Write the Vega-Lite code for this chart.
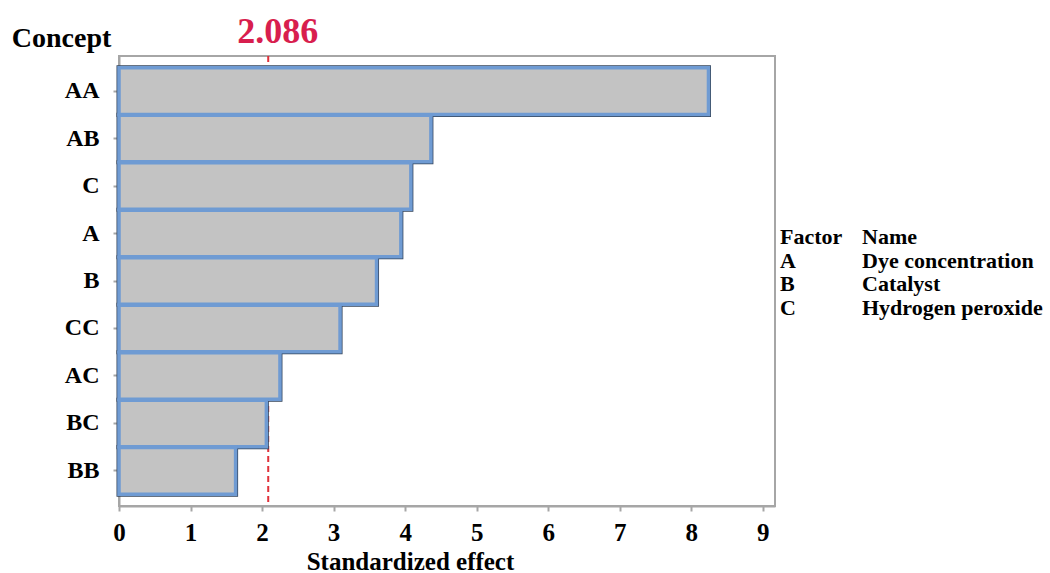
{
  "$schema": "https://vega.github.io/schema/vega-lite/v6.json",
  "background": "white",
  "padding": {"left": 10, "top": 12, "right": 0, "bottom": 0},
  "spacing": 4,
  "config": {
    "font": "Liberation Serif",
    "view": {"stroke": "#a6a6a6", "strokeWidth": 2},
    "axis": {
      "labelFont": "Liberation Serif",
      "titleFont": "Liberation Serif",
      "labelFontWeight": "bold",
      "titleFontWeight": "bold",
      "labelColor": "black",
      "titleColor": "black",
      "domainColor": "#a6a6a6",
      "domainWidth": 2,
      "tickColor": "#a6a6a6",
      "tickWidth": 2,
      "grid": false
    }
  },
  "hconcat": [
    {
      "width": 656,
      "height": 450,
      "resolve": {"axis": {"x": "independent"}},
      "layer": [
        {
          "data": {"values": [{"t": 2.086}]},
          "mark": {"type": "rule", "color": "#e0303a", "strokeWidth": 2, "strokeDash": [6, 4]},
          "encoding": {
            "x": {
              "field": "t",
              "type": "quantitative",
              "scale": {"domain": [0, 9.17], "nice": false},
              "axis": {
                "orient": "top",
                "title": null,
                "values": [2.086],
                "format": ".3f",
                "domain": false,
                "ticks": false,
                "labelFlush": false,
                "labelColor": "#d81e4e",
                "labelFontSize": 36,
                "labelOffset": 9,
                "labelPadding": 14,
                "labelBaseline": "alphabetic"
              }
            }
          }
        },
        {
          "data": {
            "values": [
              {"term": "AA", "effect": 8.24},
              {"term": "AB", "effect": 4.36},
              {"term": "C", "effect": 4.08},
              {"term": "A", "effect": 3.94},
              {"term": "B", "effect": 3.6},
              {"term": "CC", "effect": 3.09},
              {"term": "AC", "effect": 2.25},
              {"term": "BC", "effect": 2.06},
              {"term": "BB", "effect": 1.63}
            ]
          },
          "layer": [
            {
              "mark": {"type": "bar", "fill": "#c3c3c3", "stroke": "#34445a", "strokeWidth": 5}
            },
            {
              "mark": {"type": "bar", "fill": "#c3c3c3", "stroke": "#6f9bd3", "strokeWidth": 3.5}
            }
          ],
          "encoding": {
            "y": {
              "field": "term",
              "type": "nominal",
              "sort": null,
              "scale": {"paddingInner": 0.02, "paddingOuter": 0.25},
              "axis": {
                "title": "Concept",
                "titleAngle": 0,
                "titleX": -58,
                "titleY": -10,
                "titleAlign": "center",
                "titleBaseline": "alphabetic",
                "titleFontSize": 28,
                "labelFontSize": 24,
                "tickSize": 6,
                "labelPadding": 14
              }
            },
            "x": {
              "field": "effect",
              "type": "quantitative",
              "scale": {"domain": [0, 9.17], "nice": false},
              "axis": {
                "orient": "bottom",
                "title": "Standardized effect",
                "values": [0, 1, 2, 3, 4, 5, 6, 7, 8, 9],
                "labelFlush": false,
                "labelFontSize": 25,
                "tickSize": 5,
                "labelPadding": 9,
                "titleFontSize": 25,
                "titleX": 291,
                "titleY": 63,
                "titleAlign": "center",
                "titleBaseline": "alphabetic"
              }
            }
          }
        }
      ]
    },
    {
      "width": 82,
      "height": 450,
      "view": {"stroke": null},
      "data": {
        "values": [
          {"col": 0, "row": 0, "text": "Factor"},
          {"col": 1, "row": 0, "text": "Name"},
          {"col": 0, "row": 1, "text": "A"},
          {"col": 1, "row": 1, "text": "Dye concentration"},
          {"col": 0, "row": 2, "text": "B"},
          {"col": 1, "row": 2, "text": "Catalyst"},
          {"col": 0, "row": 3, "text": "C"},
          {"col": 1, "row": 3, "text": "Hydrogen peroxide"}
        ]
      },
      "mark": {
        "type": "text",
        "align": "left",
        "baseline": "alphabetic",
        "font": "Liberation Serif",
        "fontWeight": "bold",
        "fontSize": 22,
        "color": "black"
      },
      "encoding": {
        "x": {"field": "col", "type": "quantitative", "scale": {"domain": [0, 1]}, "axis": null},
        "y": {"field": "row", "type": "quantitative", "scale": {"domain": [-7.93, 11.06], "reverse": true, "nice": false, "zero": false}, "axis": null},
        "text": {"field": "text", "type": "nominal"}
      }
    }
  ]
}
